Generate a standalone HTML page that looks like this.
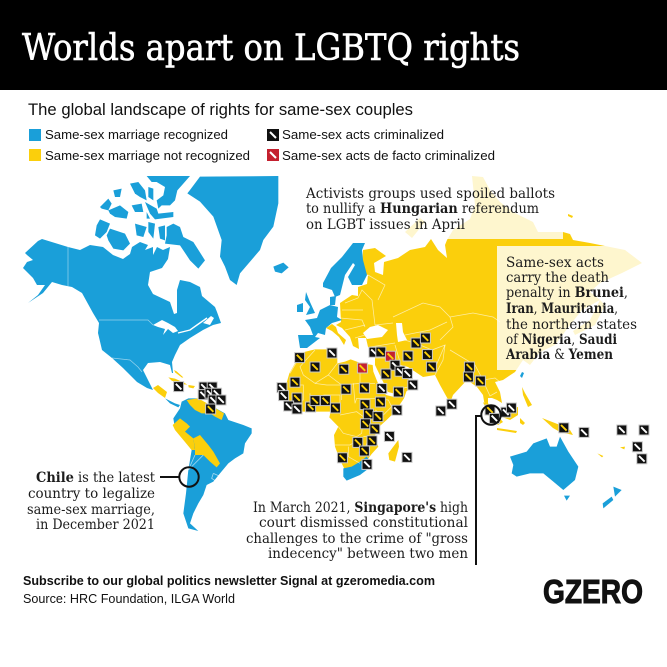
<!DOCTYPE html>
<html lang="en">
<head>
<meta charset="utf-8">
<title>Worlds apart on LGBTQ rights</title>
<style>
html,body{margin:0;padding:0;background:#fff;width:667px;height:667px;overflow:hidden}
svg{display:block}
.sl{font-family:"DejaVu Serif","Liberation Serif",serif;font-size:13.6px;fill:#1c1c1c}
.sl tspan{font-weight:bold}
.ss{font-family:"Liberation Sans",sans-serif;fill:#111}
.b{fill:#1a9fd9}
.y{fill:#fbcf0c}
.w{fill:#fff}
.bd{fill:none;stroke:#fff;stroke-opacity:.62;stroke-width:.75}
</style>
</head>
<body>
<svg id="chart" xmlns="http://www.w3.org/2000/svg" width="667" height="667" viewBox="0 0 667 667">
<rect width="667" height="667" fill="#fff"/>
<rect width="667" height="90" fill="#000"/>
<text x="22" y="60" textLength="498" lengthAdjust="spacingAndGlyphs" style="font-family:'DejaVu Serif','Liberation Serif',serif;font-size:36px;fill:#fff;stroke:#fff;stroke-width:.6">Worlds apart on LGBTQ rights</text>
<text class="ss" x="28" y="115" textLength="385" lengthAdjust="spacingAndGlyphs" style="font-size:17px">The global landscape of rights for same-sex couples</text>

<g>
<rect x="29" y="129" width="12" height="12" class="b"/>
<text class="ss" x="45" y="139" textLength="183" lengthAdjust="spacingAndGlyphs" style="font-size:13px">Same-sex marriage recognized</text>
<rect x="29" y="149" width="12" height="12" class="y"/>
<text class="ss" x="45" y="160" textLength="205" lengthAdjust="spacingAndGlyphs" style="font-size:13px">Same-sex marriage not recognized</text>
<rect x="267" y="129" width="12" height="12" fill="#111"/>
<line x1="270" y1="132" x2="276" y2="138" stroke="#fff" stroke-width="2"/>
<text class="ss" x="282" y="139" textLength="162" lengthAdjust="spacingAndGlyphs" style="font-size:13px">Same-sex acts criminalized</text>
<rect x="267" y="149" width="12" height="12" fill="#c4202f"/>
<line x1="270" y1="152" x2="276" y2="158" stroke="#fff" stroke-width="2"/>
<text class="ss" x="282" y="160" textLength="213" lengthAdjust="spacingAndGlyphs" style="font-size:13px">Same-sex acts de facto criminalized</text>
</g>

<defs><clipPath id="mapclip"><rect x="0" y="176" width="667" height="400"/></clipPath></defs>
<g clip-path="url(#mapclip)">
<g>
<polygon class="b" points="25,253 38,241 42,239 68,247 80,250 90,245 103,247 113,255 123,259 130,254 132,247 140,242 148,245 145,250 153,247 153,255 157,247 163,250 170,247 168,259 162,268 150,272 148,285 153,294 170,302 174,314 177,313 177,290 180,280 190,282 200,287 202,296 215,307 217,312 221,323 213,325 203,330 190,338 180,345 175,355 172,362 173,373 172,373 170,365 160,362 148,363 143,370 147,378 153,390 147,388 137,382 123,368 112,358 102,350 98,333 99,323 93,313 82,293 72,287 62,285 52,282 43,293 28,303 38,295 45,285 37,285 33,278 23,268 27,262 33,260 27,255"/>
<polygon class="w" points="153,325 162,320 168,323 175,327 178,331 173,333 168,329 163,335 165,329 158,327"/>
<polyline points="178,333 190,330 197,325 207,318" fill="none" stroke="#fff" stroke-width="1.4"/>
<polygon class="w" points="203,323 211,316 214,318 210,325"/>
<polyline points="68,247 68,286" fill="none" stroke="#fff" stroke-opacity=".55" stroke-width=".7"/>
<polyline points="99,320 148,320 153,325" fill="none" stroke="#fff" stroke-opacity=".55" stroke-width=".7"/>
<polyline points="112,358 130,360 138,367 142,372" fill="none" stroke="#fff" stroke-opacity=".55" stroke-width=".7"/>
<polyline points="113,360 119,368 125,377" fill="none" stroke="#fff" stroke-width="1.4"/>
</g>
<g transform="scale(.33333) translate(270,516)">
<polygon class="b" points="170,12 240,12 300,12 280,35 262,55 255,85 240,100 215,100 205,110 200,85 220,70 225,45 200,30 185,30"/>
<polygon class="b" points="120,35 145,30 165,55 170,85 150,75 135,65"/>
<polygon class="b" points="175,45 190,50 190,85 175,75"/>
<polygon class="b" points="30,105 55,80 65,95 55,115 35,110"/>
<polygon class="b" points="70,55 95,50 90,75 75,75"/>
<polygon class="b" points="55,115 90,100 115,120 110,140 75,135 60,125"/>
<polygon class="b" points="125,100 155,95 160,120 135,120"/>
<polygon class="b" points="165,90 200,110 205,125 250,120 250,135 195,142 180,125"/>
<polygon class="b" points="170,120 180,140 170,140"/>
<polygon class="b" points="30,142 60,155 50,180 30,200 15,190 20,160"/>
<polygon class="b" points="60,170 105,185 120,215 100,235 70,230 55,205 50,190"/>
<polygon class="b" points="135,155 170,165 160,195 140,190"/>
<polygon class="b" points="175,150 195,155 190,200 175,180"/>
<polygon class="b" points="205,165 225,160 225,205 210,200"/>
<polygon class="b" points="230,165 250,155 270,165 280,195 310,210 345,265 325,290 300,265 270,220 225,215 230,190"/>
</g>
<g transform="scale(.33333) translate(0,510)">
<polygon class="b" points="570,60 600,20 835,18 835,100 820,170 790,210 780,240 720,310 710,345 690,330 675,290 660,260 665,210 640,140 600,95 562,70"/>
<polygon class="b" points="820,290 850,278 866,292 845,310 825,305"/>
</g>

<g transform="scale(.33333) translate(300,1110)">
<polygon class="b" points="220,145 240,115 245,95 265,85 290,85 330,105 375,130 385,150 430,165 455,175 455,190 435,220 430,250 405,265 385,280 360,310 340,335 320,345 310,375 295,400 280,430 270,460 295,483 265,475 250,430 258,370 265,300 275,240 225,175"/>
<polygon class="y" points="218,165 240,145 260,160 270,170 255,185 280,205 285,240 275,240 225,180"/>
<polygon class="y" points="280,205 300,195 325,225 340,245 360,280 350,292 330,275 310,255 285,255 285,235"/>
<polygon class="y" points="260,90 295,85 330,105 372,130 365,150 345,140 330,130 305,130 285,120 270,105"/>
<polygon class="y" points="159,54 174,45 201,66 195,84 174,69"/>
<polygon class="b" points="195,85 225,100 240,105 235,112 210,100"/>
<polygon class="y" points="205,22 225,26 252,38 262,44 240,42 215,32"/>
<polygon class="y" points="222,0 230,4 250,22 246,23 226,8"/>
<polygon class="y" points="265,45 285,48 280,55 266,52"/>
<polyline class="bd" style="stroke-width:2.4" points="285,255 265,300 310,255"/>
<polyline class="bd" style="stroke-width:2.4" points="340,310 362,320 350,335 335,325 340,310"/>
</g>

<g>
<polygon class="y" points="363,250 375,248 386,256 374,263 375,272 383,275 384,262 398,258 410,250 425,247 431,239 438,250 447,258 445,245 447,240 453,230 470,219 475,205 472,176 483,177 490,190 500,202 513,212 533,222 538,232 563,232 570,234 573,240 590,243 625,250 642,263 622,273 600,283 590,292 600,300 582,310 570,325 555,345 540,352 530,365 523,360 515,372 503,380 495,382 500,392 502,403 497,400 492,398 488,398 488,403 493,415 492,417 485,407 483,395 477,387 470,382 467,380 453,395 450,403 440,385 435,375 423,377 408,367 393,363 400,372 407,378 417,385 400,395 388,392 375,365 375,355 368,347 366,338 358,338 359,349 353,346 350,337 342,328 336,325 341,322 340,303 352,295 358,296 358,287 367,284 368,275 362,272"/>
<polygon class="y" points="405,232 420,218 425,222 412,238"/>
<polygon class="y" points="568,214 573,216 572,218 568,216"/>
<polygon class="w" points="363,333 370,327 378,325 388,330 382,337 367,339"/>
<polygon class="w" points="396,323 402,323 403,332 407,340 398,342 397,335"/>
<polygon class="y" points="590,320 600,300 605,305 595,325 575,335 573,331"/>
<polygon class="b" points="323,283 331,268 342,257 353,243 365,243 362,250 363,260 367,275 362,285 352,285 348,277 355,265 353,263 345,275 343,283 340,295 335,297 332,290 323,287"/>
<polygon class="b" points="306,292 310,302 315,313 306,315 310,307 305,300"/>
<polygon class="b" points="297,305 303,303 303,312 297,312"/>
<polygon class="b" points="305,320 317,318 320,310 330,305 338,307 337,317 342,320 332,323 326,328 325,335 318,333 315,337 320,338 307,348 300,348 298,335 313,335 310,327"/>
<polygon class="b" points="330,305 330,297 336,296 335,305"/>
<polygon class="y" points="326,328 332,324 336,327 338,333 346,340 344,345 339,337 332,331"/>
<polygon class="b" points="522,372 524,373 522,378 520,376"/>
<polygon class="y" points="522,387 525,393 532,405 528,407 523,395"/>
<polygon class="y" points="483,402 493,410 503,422 498,425 488,415"/>
<polygon class="y" points="497,428 517,431 516,433 497,430"/>
<polygon class="y" points="503,410 518,407 518,415 510,420 502,417"/>
<polygon class="y" points="520,418 525,423 523,425 520,423"/>
<polygon class="y" points="542,418 560,425 570,430 573,435 560,432 553,428"/>
<polyline class="bd" points="393,317 423,303 440,307 450,317 473,313 493,317 500,322"/>
<polyline class="bd" points="450,317 453,327 440,340"/>
<polyline class="bd" points="393,323 375,325"/>
<polyline class="bd" points="405,335 430,330 447,322"/>
<polyline class="bd" points="405,340 420,345 432,350"/>
<polyline class="bd" points="395,345 400,362"/>
<polyline class="bd" points="370,347 395,343"/>
<polyline class="bd" points="432,350 445,345 435,368"/>
<polyline class="bd" points="445,345 443,360 435,375"/>
<polyline class="bd" points="450,350 475,365 483,380"/>
<polyline class="bd" points="483,380 495,378 500,382"/>
<polyline class="bd" points="485,385 490,396 497,392"/>
<polyline class="bd" points="375,358 390,358 400,372"/>
<polyline class="bd" points="395,390 417,385"/>
<polyline class="bd" points="345,303 358,298 362,290 372,300 375,325"/>
<polyline class="bd" points="342,310 363,310"/>
<polyline class="bd" points="340,318 362,320 365,327"/>
<polyline class="bd" points="345,330 365,325"/>
<polyline class="bd" points="355,338 365,335"/>
<polyline class="bd" points="368,275 385,285 378,300"/>
</g>

<g transform="scale(.33333) translate(780,990)">
<polygon class="y" points="88,130 105,100 125,68 165,58 215,58 232,75 232,100 255,95 272,88 305,100 338,105 340,125 358,170 378,195 398,200 440,182 432,205 405,245 380,270 352,295 345,320 355,350 335,372 325,385 300,405 285,420 255,420 240,390 225,350 222,315 235,290 208,262 212,245 150,245 120,245 95,228 80,205 78,165"/>
<polygon class="b" points="250,415 275,410 300,395 320,380 332,395 320,420 300,435 260,452 250,440"/>
<polygon class="y" points="400,350 415,330 417,350 405,395 388,390 385,370"/>
<polyline class="bd" style="stroke-width:2.2" points="165,60 120,110 130,135 165,160 205,135 232,100"/>
<polyline class="bd" style="stroke-width:2.2" points="125,70 90,130"/>
<polyline class="bd" style="stroke-width:2.2" points="300,100 300,160 345,160"/>
<polyline class="bd" style="stroke-width:2.2" points="205,135 245,165 300,160"/>
<polyline class="bd" style="stroke-width:2.2" points="165,160 200,165 245,165 245,210"/>
<polyline class="bd" style="stroke-width:2.2" points="280,160 285,220 290,205 345,205"/>
<polyline class="bd" style="stroke-width:2.2" points="190,195 240,195 240,245"/>
<polyline class="bd" style="stroke-width:2.2" points="90,165 130,165 130,210 100,220"/>
<polyline class="bd" style="stroke-width:2.2" points="150,190 150,245"/>
<polyline class="bd" style="stroke-width:2.2" points="345,205 385,210 395,230 370,255 345,240"/>
<polyline class="bd" style="stroke-width:2.2" points="240,255 290,245 310,260 305,310 290,320 250,310 235,290"/>
<polyline class="bd" style="stroke-width:2.2" points="330,280 355,290 345,320 310,320"/>
<polyline class="bd" style="stroke-width:2.2" points="225,345 270,345 295,330"/>
<polyline class="bd" style="stroke-width:2.2" points="320,340 310,375"/>
<polyline class="bd" style="stroke-width:2.2" points="265,350 265,380 300,400"/>
<polygon class="b" points="750,380 800,365 820,340 860,325 870,350 890,350 900,320 925,365 955,410 945,450 910,480 880,455 850,430 810,430 770,440 755,430 760,405"/>
<polygon class="b" points="912,497 930,497 920,512"/>
<polygon class="b" points="1060,470 1085,480 1065,500"/>
<polygon class="b" points="1055,500 1060,510 1030,535 1028,520"/>
<polygon class="y" points="1012,370 1030,378 1026,382"/>
<polygon class="y" points="1080,352 1095,350 1093,358"/>
</g>

<rect x="300" y="170" width="263" height="69" fill="#fff" fill-opacity=".8"/>
<rect x="497" y="246" width="150" height="124" fill="#fff" fill-opacity=".8"/>
</g>

<g id="markers"></g>

<g>
<text class="sl" x="306" y="198" textLength="249" lengthAdjust="spacingAndGlyphs">Activists groups used spoiled ballots</text>
<text class="sl" x="306" y="213" textLength="233" lengthAdjust="spacingAndGlyphs">to nullify a <tspan>Hungarian</tspan> referendum</text>
<text class="sl" x="306" y="229" textLength="159" lengthAdjust="spacingAndGlyphs">on LGBT issues in April</text>
</g>
<g>
<text class="sl" x="506" y="267" textLength="98" lengthAdjust="spacingAndGlyphs">Same-sex acts</text>
<text class="sl" x="506" y="282" textLength="103" lengthAdjust="spacingAndGlyphs">carry the death</text>
<text class="sl" x="506" y="297" textLength="122" lengthAdjust="spacingAndGlyphs">penalty in <tspan>Brunei</tspan>,</text>
<text class="sl" x="506" y="313" textLength="112" lengthAdjust="spacingAndGlyphs"><tspan>Iran</tspan>, <tspan>Mauritania</tspan>,</text>
<text class="sl" x="506" y="329" textLength="131" lengthAdjust="spacingAndGlyphs">the northern states</text>
<text class="sl" x="506" y="344" textLength="111" lengthAdjust="spacingAndGlyphs">of <tspan>Nigeria</tspan>, <tspan>Saudi</tspan></text>
<text class="sl" x="506" y="359" textLength="107" lengthAdjust="spacingAndGlyphs"><tspan>Arabia</tspan> &amp; <tspan>Yemen</tspan></text>
</g>
<g>
<text class="sl" x="36" y="482" textLength="119" lengthAdjust="spacingAndGlyphs"><tspan>Chile</tspan> is the latest</text>
<text class="sl" x="28" y="498" textLength="127" lengthAdjust="spacingAndGlyphs">country to legalize</text>
<text class="sl" x="27" y="514" textLength="128" lengthAdjust="spacingAndGlyphs">same-sex marriage,</text>
<text class="sl" x="36" y="529" textLength="119" lengthAdjust="spacingAndGlyphs">in December 2021</text>
<line x1="160" y1="477" x2="179" y2="477" stroke="#111" stroke-width="2"/>
<circle cx="189" cy="477" r="9.7" fill="none" stroke="#111" stroke-width="2"/>
</g>
<g>
<text class="sl" x="253" y="512" textLength="215" lengthAdjust="spacingAndGlyphs">In March 2021, <tspan>Singapore's</tspan> high</text>
<text class="sl" x="259" y="527" textLength="209" lengthAdjust="spacingAndGlyphs">court dismissed constitutional</text>
<text class="sl" x="246" y="543" textLength="222" lengthAdjust="spacingAndGlyphs">challenges to the crime of "gross</text>
<text class="sl" x="268" y="558" textLength="200" lengthAdjust="spacingAndGlyphs">indecency" between two men</text>
<polyline points="476,565 476,416 482,416" fill="none" stroke="#111" stroke-width="2"/>
<circle cx="491" cy="415" r="9.7" fill="none" stroke="#111" stroke-width="2"/>
</g>

<text class="ss" x="23" y="585" textLength="412" lengthAdjust="spacingAndGlyphs" style="font-size:13px;font-weight:bold">Subscribe to our global politics newsletter Signal at gzeromedia.com</text>
<text class="ss" x="23" y="603" textLength="212" lengthAdjust="spacingAndGlyphs" style="font-size:13px">Source: HRC Foundation, ILGA World</text>
<text x="543" y="603" textLength="100" lengthAdjust="spacingAndGlyphs" style="font-family:'Liberation Sans',sans-serif;font-weight:bold;font-size:33px;fill:#111;stroke:#111;stroke-width:1">GZERO</text>
</svg>
<script>
// Schematic map-grid coordinates for each country marker (grid degrees).
const markerLon = [-6.2,10,1.5,15.9,25.2,31,34.4,39.2,48,57.7,52,56.7,41.5,44,47.7,37,59.7,78.7,78.2,84.2,50.4,43.2,34.9,26.2,17,-8.5,-15,-14.2,-7.5,-11.7,-7.5,-0.7,1.5,6.7,11.7,26.5,34.2,42.5,28.2,33,26.7,31.4,30,22.9,26.2,15.2,27.5,38.7,47.5,64.4,69.9,89,91.2,96.9,99.7,125.9,136,154.9,166,162.7,164.9,-66.7,-54,-49.9,-54.4,-51,-47.7,-49.4,-45.5,-50.7];
const markerLat = [29.7,32,25,23.9,24.5,32.4,32.5,30.4,30.5,31.2,37,39.5,25.9,22.9,21.7,21.5,25,25,20,18,16,12.5,14.2,14.5,13.9,17.4,14.7,10.7,9.5,5.5,4,5,8.2,8.2,4.5,6.2,7.5,3.4,1.5,0.2,-3.4,-6,-11.9,-12.7,-17,-20.4,-23.7,-9.7,-20.2,3,6.4,3.5,-0.7,2.4,4.5,-5.4,-7.7,-6.5,-6.5,-14.9,-20.9,15.2,15,15,11.2,11.9,11.9,8.5,8.5,4];
const deFactoMarkers = [4, 7];
const seaMarkers = [1,5,12,13,14,20,22,26,27,29,30,37,46,47,48,49,50,52,53,54,56,57,58,59,60,61,62,63,64,65,66,67,68];

function mapX(lon){ return 312 + 2*lon; }
function mapY(lat){ return 417 - 2*lat; }

const NS = 'http://www.w3.org/2000/svg';
const host = document.getElementById('markers');
markerLon.forEach(function(lon, i){
  const x = mapX(lon), y = mapY(markerLat[i]);
  const g = document.createElementNS(NS, 'g');
  
  
  g.setAttribute('transform', 'translate(' + x + ',' + y + ')');
  const halo = document.createElementNS(NS, 'rect');
  
  
  halo.setAttribute('x', -5.5); halo.setAttribute('y', -5.5);
  halo.setAttribute('width', 11); halo.setAttribute('height', 11);
  halo.setAttribute('fill', '#c9c9c9');
  g.appendChild(halo);
  const sq = document.createElementNS(NS, 'rect');
  
  
  sq.setAttribute('x', -4.5); sq.setAttribute('y', -4.5);
  sq.setAttribute('width', 9); sq.setAttribute('height', 9);
  sq.setAttribute('fill', deFactoMarkers.indexOf(i) >= 0 ? '#c4202f' : '#111');
  g.appendChild(sq);
  const sl = document.createElementNS(NS, 'line');
  
  
  sl.setAttribute('x1', -2.8); sl.setAttribute('y1', -2.8);
  sl.setAttribute('x2', 2.8); sl.setAttribute('y2', 2.8);
  sl.setAttribute('stroke', seaMarkers.indexOf(i) >= 0 ? '#fff' : '#fbcf0c');
  sl.setAttribute('stroke-width', 1.9);
  g.appendChild(sl);
  host.appendChild(g);
});
</script>
</body>
</html>
